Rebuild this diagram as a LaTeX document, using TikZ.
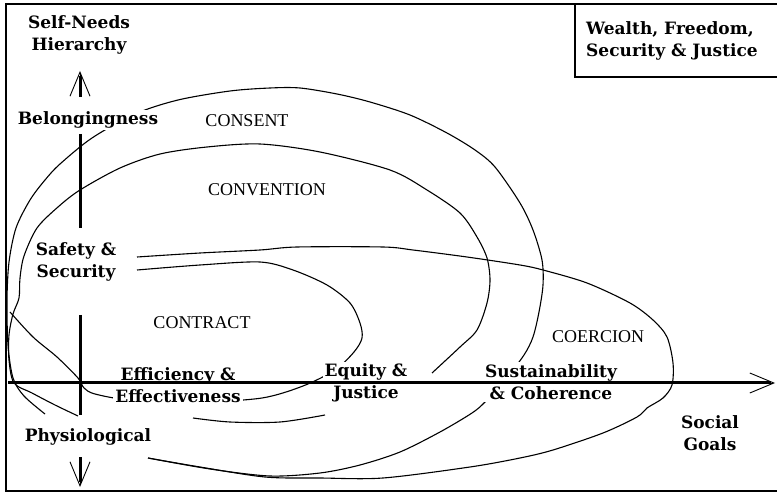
\documentclass[tikz,border=0pt]{standalone}
\usepackage{fontspec}
\setmainfont{DejaVu Serif}
\newfontfamily\modefont{Liberation Serif}
\usetikzlibrary{arrows.meta}

\begin{document}
\begin{tikzpicture}[x=1pt,y=-1pt,>={Straight Barb[length=24pt,width=20pt]},
  goal/.style={font=\bfseries\fontsize{17}{22}\selectfont,align=center,fill=white,inner sep=2pt},
  mode/.style={font=\modefont\fontsize{18}{20}\selectfont},
  ring/.style={line width=1.1pt,line join=round},
  axis/.style={line width=3pt},
  barb/.style={->,line width=0.9pt}]

\useasboundingbox (0,0) rectangle (777,494);
\clip (0,0) rectangle (777,494);

% frame and title box
\draw[line width=2pt] (6,4) rectangle (800,491);
\draw[line width=1.5pt] (575,4) rectangle (800,77);

% consent
\draw[ring] plot[smooth] coordinates {(45,414) (24,396) (13,378) (8,345) (7,300) (9,262) (16,228)
  (30,200) (45,180) (60,164) (92,138) (135,114) (178,100) (230,91) (270,88) (300,88) (337,94)
  (370,102) (410,115) (447,133) (475,150) (495,167) (520,203) (533,230) (542,260) (543,285)
  (539,312) (533,337) (524,355) (505,380) (485,402) (472,413) (440,432) (400,452) (360,465)
  (320,473) (270,476) (210,469) (148,458)};
% convention
\draw[ring] plot[smooth] coordinates {(78,416) (55,405) (32,393) (14,383) (9,360) (9,335) (13,314)
  (19,298) (20,278) (24,256) (37,228) (58,207) (80,190) (120,168) (160,154) (207,147) (260,144)
  (320,152) (390,170) (427,190) (460,213) (477,237) (487,258) (490,280) (487,303) (477,330)
  (460,347) (432,373)}
  plot[smooth] coordinates {(193,418) (230,422) (280,422) (325,415)};
% contract
\draw[ring] plot[smooth] coordinates {(137,270) (200,265) (260,262) (293,270) (327,285) (350,303)
  (360,323) (362,338) (354,352) (335,370) (303,386) (262,398) (200,402) (130,400) (95,394)
  (84,388) (78,378) (57,357) (33,337) (10,312)};
% coercion
\draw[ring] plot[smooth] coordinates {(137,257) (200,253) (260,250) (297,247) (383,247) (413,250)
  (467,257) (520,265) (543,270) (587,283) (630,303) (653,320) (667,337) (673,363) (672,385)
  (663,398) (647,408) (637,417) (603,433) (553,450) (520,458) (470,467) (383,478) (320,478)
  (265,477) (200,467) (148,458)};

\node[mode] (consent)    at (247,121) {CONSENT};
\node[mode] (convention) at (267,190) {CONVENTION};
\node[mode] (contract)   at (202,323) {CONTRACT};
\node[mode] (coercion)   at (598,337) {COERCION};

\node[goal] (self)    at (79,35)   {Self-Needs\\Hierarchy};
\node[goal] (belong)  at (88,120)  {Belongingness};
\node[goal] (safety)  at (76,262)  {Safety \&\\Security};
\node[goal] (physio)  at (88,437)  {Physiological};
\node[goal] (effic)   at (178,385) {Efficiency \&\\Effectiveness};
\node[goal] (equity)  at (366,383) {Equity \&\\Justice};
\node[goal] (sustain) at (551,382) {Sustainability\\\& Coherence};
\node[goal] (social)  at (710,433) {Social\\Goals};
\node[goal,align=left,anchor=west] (wealth) at (584,41) {Wealth, Freedom,\\Security \& Justice};

% axes
\coordinate (up)    at (80,71);
\coordinate (upend) at (80,97);
\coordinate (v1)    at (80,134);
\coordinate (v2)    at (80,228);
\coordinate (v3)    at (80,315);
\coordinate (v4)    at (80,415);
\coordinate (dnend) at (80,457);
\coordinate (dn)    at (80,487);
\coordinate (west)  at (8,383);
\coordinate (east)  at (775,383);

\draw[axis] (upend) -- ([yshift=-5pt]up) (v1) -- (v2) (v3) -- (v4) (dnend) -- ([yshift=5pt]dn)
  (west) -- ([xshift=-4pt]east);
\draw[barb] (upend) -- (up);
\draw[barb] (dnend) -- (dn);
\draw[barb] (740,383) -- (east);
\end{tikzpicture}
\end{document}
